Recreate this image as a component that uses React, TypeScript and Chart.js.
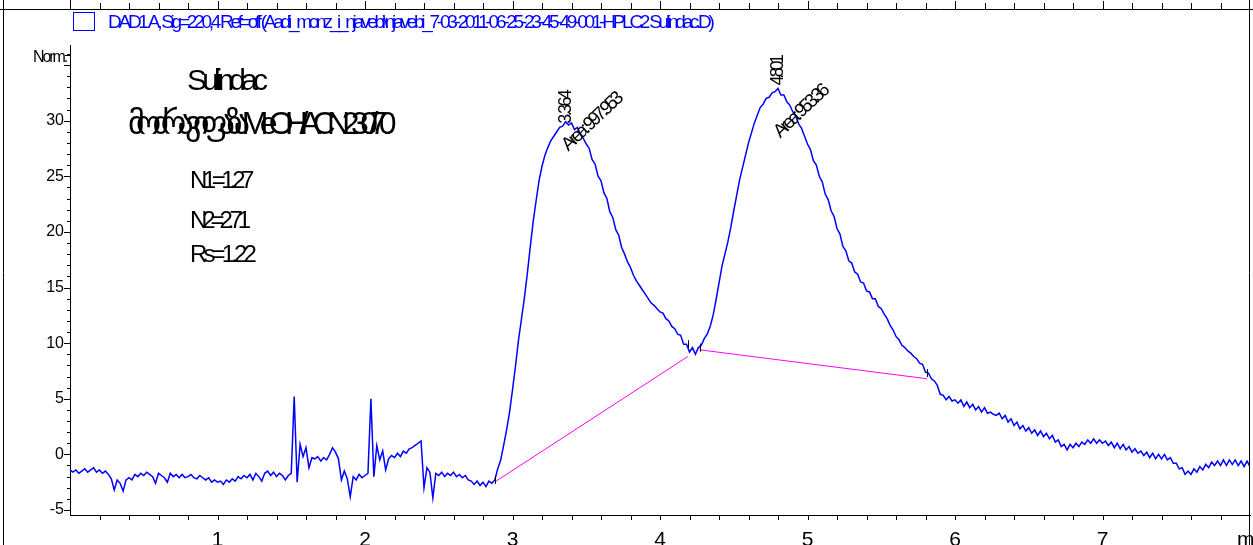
import { useEffect, useRef } from "react";
import { Chart, registerables } from "chart.js";

Chart.register(...registerables);

// Detector trace, mAU, sampled every 0.02 min from 0 to 8 min
const SAMPLE_STEP_MIN = 0.02;
const SIGNAL_MAU = [
  -1.4, -1.6, -1.4, -1.7, -1.5, -1.3, -1.6, -1.4, -1.2, -1.6, -1.4, -1.7, -1.5, -1.8, -2.2, -3.2, -2.3, -2.6, -3.3, -2.3, -2.1, -2.3, -1.8, -2.0, -1.7,
  -1.9, -1.6, -1.8, -2.0, -2.6, -1.7, -1.9, -2.1, -2.5, -1.7, -2.0, -1.8, -2.1, -1.8, -2.1, -2.0, -1.8, -2.1, -2.2, -1.9, -2.1, -2.3, -2.1, -2.5, -2.3,
  -2.5, -2.4, -2.7, -2.3, -2.5, -2.2, -2.4, -2.0, -2.2, -1.9, -2.1, -1.8, -2.3, -1.7, -2.0, -2.4, -1.7, -1.5, -1.9, -1.6, -2.0, -1.7, -1.9, -2.3, -1.9,
  -1.7, 5.2, -2.5, 0.9, -0.2, 0.6, -1.2, -0.3, -0.4, -0.2, -0.6, -0.3, -0.5, 0.0, 0.6, 0.2, -0.4, -2.3, -1.5, -2.2, -3.8, -2.0, -2.3, -1.8, -2.1,
  -1.9, -1.7, 5.0, -2.0, 0.8, -0.5, 0.3, -1.4, -0.4, -0.1, -0.3, 0.1, -0.2, 0.3, 0.1, 0.5, 0.6, 0.8, 1.0, 1.2, -3.0, -1.2, -1.6, -3.9, -1.7,
  -1.9, -1.6, -2.0, -1.7, -1.9, -1.6, -2.0, -1.8, -2.1, -1.9, -2.3, -2.4, -2.7, -2.4, -2.8, -2.5, -2.9, -2.4, -2.6, -2.3, -1.3, -0.5, 0.8, 2.2, 3.8,
  5.8, 7.9, 10.2, 12.1, 14.0, 16.2, 18.6, 20.9, 22.8, 24.6, 25.9, 26.9, 27.6, 28.2, 28.6, 29.0, 29.4, 29.5, 29.9, 29.6, 29.8, 29.2, 29.4, 28.8, 28.4,
  27.9, 27.5, 26.5, 26.1, 25.0, 24.6, 23.5, 23.0, 21.8, 21.3, 20.2, 19.7, 18.6, 18.0, 17.3, 16.8, 16.1, 15.6, 15.2, 14.8, 14.4, 14.0, 13.6, 13.4, 13.1,
  12.8, 12.7, 12.2, 12.0, 11.5, 11.3, 10.8, 10.7, 9.9, 9.9, 9.2, 9.6, 9.0, 9.6, 9.8, 10.4, 10.8, 11.5, 12.5, 13.9, 15.4, 16.9, 18.0, 19.1, 20.4,
  21.9, 23.3, 24.7, 25.8, 26.9, 28.0, 28.9, 29.8, 30.5, 31.2, 31.5, 32.0, 32.1, 32.5, 32.6, 32.9, 32.3, 32.3, 31.7, 31.4, 30.8, 30.4, 29.7, 29.3, 28.6,
  27.9, 27.4, 26.4, 26.0, 25.0, 24.5, 23.4, 22.9, 21.9, 21.4, 20.3, 19.8, 18.7, 18.3, 17.4, 17.2, 16.4, 16.2, 15.5, 15.4, 14.7, 14.6, 14.0, 14.0, 13.3,
  13.1, 12.6, 12.2, 11.6, 11.2, 10.6, 10.3, 9.8, 9.6, 9.3, 9.1, 8.8, 8.6, 8.2, 8.1, 7.4, 7.3, 6.8, 6.6, 6.2, 5.4, 5.3, 4.9, 5.2, 4.8,
  4.9, 4.6, 4.9, 4.3, 4.7, 4.2, 4.5, 4.0, 4.3, 3.8, 4.2, 3.7, 3.8, 3.6, 3.5, 3.7, 3.2, 3.5, 2.9, 3.2, 2.6, 2.9, 2.3, 2.6, 2.1,
  2.4, 1.9, 2.2, 1.7, 2.1, 1.6, 1.9, 1.4, 1.7, 1.1, 1.3, 0.7, 0.9, 0.4, 0.9, 0.6, 1.0, 0.7, 1.1, 0.9, 1.3, 1.0, 1.4, 1.0, 1.3,
  1.0, 1.2, 0.8, 1.1, 0.6, 1.0, 0.5, 0.9, 0.4, 0.7, 0.2, 0.5, 0.1, 0.3, -0.1, 0.2, -0.3, 0.1, -0.4, 0.0, -0.4, 0.0, -0.5, -0.3, -0.8,
  -0.8, -1.3, -1.2, -1.8, -1.5, -1.8, -1.3, -1.6, -1.1, -1.4, -0.9, -1.2, -0.7, -1.0, -0.6, -1.0, -0.5, -1.0, -0.5, -0.9, -0.5, -1.0, -0.6, -1.1, -0.6,
  -1.1,
];

// Integration baselines (min, mAU)
const BASELINE_1_TIMES = [2.878, 4.189];
const BASELINE_1_VALUES = [-2.5, 8.8];
const BASELINE_2_TIMES = [4.268, 5.81];
const BASELINE_2_VALUES = [9.4, 6.8];

// Integration event markers
const EVENT_TIMES = [2.878, 4.189, 4.268, 5.81];

// Peaks
const PEAK_TIMES = [3.364, 4.801];
const PEAK_RT_LABELS = ["3.364", "4.801"];
const PEAK_AREA_LABELS = ["Area: 997.953", "Area: 953.36"];

// Axes
const X_LABELED_TICKS = [1, 2, 3, 4, 5, 6, 7];
const Y_LABELED_TICKS = [-5, 0, 5, 10, 15, 20, 25, 30];
const Y_UNIT_LABEL = "Norm.";
const X_UNIT_LABEL = "min";

// Header and notes
const SIGNAL_TITLE =
  "DAD1 A, Sig=220,4 Ref=off (Aadi_monz_i_njavebi\\njavebi_7-03-2011-06-25-23-45-49-001-HPLC2 Sulindac.D)";
const SAMPLE_NAME = "Sulindac";
const MOBILE_PHASE = "მოძრავი ფაზა MeOH/ACN 2 30/70";
const RESULT_LINES = ["N1=1.27", "N2=2.71", "Rs=1.22"];

const FONT = '"Liberation Sans", "DejaVu Sans", Arial, sans-serif';
const BLUE = "#0000ff";
const MAGENTA = "#ff00ff";

// Tight-set text: glyphs keep their size, the tracking is pulled in to fit a width
function tightText(
  ctx: CanvasRenderingContext2D,
  text: string,
  x: number,
  y: number,
  size: number,
  width: number,
  angle = 0,
  color = "#000"
) {
  ctx.save();
  ctx.font = `${size}px ${FONT}`;
  const anyCtx = ctx as any;
  const hasSpacing = "letterSpacing" in anyCtx;
  if (hasSpacing) anyCtx.letterSpacing = "0px";
  const natural = ctx.measureText(text).width;
  const chars = Array.from(text).length;
  ctx.translate(x, y);
  ctx.rotate(angle);
  if (hasSpacing) {
    anyCtx.letterSpacing = `${((width - natural) / chars).toFixed(2)}px`;
  } else {
    ctx.scale(width / natural, 1);
  }
  ctx.fillStyle = color;
  ctx.textAlign = "left";
  ctx.textBaseline = "alphabetic";
  ctx.fillText(text, 0, 0);
  ctx.restore();
}

function seg(ctx: CanvasRenderingContext2D, x1: number, y1: number, x2: number, y2: number) {
  ctx.beginPath();
  ctx.moveTo(x1, y1);
  ctx.lineTo(x2, y2);
  ctx.stroke();
}

function nearestSignal(t: number) {
  const i = Math.max(0, Math.min(SIGNAL_MAU.length - 1, Math.round(t / SAMPLE_STEP_MIN)));
  return SIGNAL_MAU[i];
}

const decorations = {
  id: "chromDecorations",
  afterDraw(chart: any) {
    const ctx: CanvasRenderingContext2D = chart.ctx;
    const xs = chart.scales.x;
    const ys = chart.scales.y;
    const area = chart.chartArea;
    const W = chart.width;
    const H = chart.height;
    const snap = (v: number) => Math.round(v) + 0.5;

    ctx.save();
    ctx.strokeStyle = "#000";
    ctx.lineWidth = 1;

    // page frame and the axis strip of the panel above
    seg(ctx, 3.5, 0, 3.5, H);
    seg(ctx, snap(area.right) - 1, 0, snap(area.right) - 1, H);
    seg(ctx, 0, 9.5, W, 9.5);
    seg(ctx, snap(area.left), 0, snap(area.left), 9.5);
    for (let k = 1; k < 40; k++) {
      const t = k * 0.2;
      const px = snap(xs.getPixelForValue(t));
      const major = k % 5 === 0;
      seg(ctx, px, 9.5, px, major ? 1 : 3);
      // bottom axis tick
      seg(ctx, px, area.bottom, px, area.bottom + 5);
    }

    // y-axis ticks: every unit, longer every five
    for (let v = -5; v <= 36; v++) {
      const py = snap(ys.getPixelForValue(v));
      const len = v % 5 === 0 ? 6 : 3;
      seg(ctx, area.left - len, py, area.left, py);
    }
    const normY = snap(ys.getPixelForValue(35.9));
    seg(ctx, area.left - 5, normY, area.left, normY);
    tightText(ctx, Y_UNIT_LABEL, 33, normY + 6, 16, 33);

    // x unit label at the right end of the axis
    tightText(ctx, X_UNIT_LABEL, area.right - 13, area.bottom + 31, 21, 26);

    // integration event markers
    EVENT_TIMES.forEach((t) => {
      const px = snap(xs.getPixelForValue(t));
      const py = ys.getPixelForValue(nearestSignal(t));
      seg(ctx, px, py - 4, px, py + 4);
    });

    // signal title with its legend box
    ctx.strokeStyle = BLUE;
    ctx.strokeRect(73.5, 12.5, 21, 18);
    tightText(ctx, SIGNAL_TITLE, 108, 28, 19, 604, 0, BLUE);

    // sample notes
    tightText(ctx, SAMPLE_NAME, 187, 90, 30, 76);
    tightText(ctx, MOBILE_PHASE, 128, 134, 32, 260);
    const noteRows = [188, 228, 262];
    const noteWidths = [60, 56, 63];
    RESULT_LINES.forEach((s, i) => tightText(ctx, s, 190, noteRows[i], 24, noteWidths[i]));

    // peak labels: retention time upright, area at an angle
    const rtLift = [0, -5];
    const rtLen = [32, 28];
    const areaDrop = [30, 50];
    const areaLen = [74, 66];
    PEAK_TIMES.forEach((t, i) => {
      const px = xs.getPixelForValue(t);
      const py = ys.getPixelForValue(nearestSignal(t));
      tightText(ctx, PEAK_RT_LABELS[i], px + 5, py + rtLift[i] + 2, 18, rtLen[i], -Math.PI / 2);
      tightText(ctx, PEAK_AREA_LABELS[i], px + 2, py + areaDrop[i], 19, areaLen[i], -Math.PI * 0.24);
    });

    ctx.restore();
  },
};

export default function App() {
  const canvasRef = useRef<HTMLCanvasElement | null>(null);

  useEffect(() => {
    const canvas = canvasRef.current;
    if (!canvas) return;

    const trace = SIGNAL_MAU.map((v, i) => ({ x: i * SAMPLE_STEP_MIN, y: v }));
    const base1 = BASELINE_1_TIMES.map((t, i) => ({ x: t, y: BASELINE_1_VALUES[i] }));
    const base2 = BASELINE_2_TIMES.map((t, i) => ({ x: t, y: BASELINE_2_VALUES[i] }));

    const chart = new Chart(canvas, {
      type: "line",
      data: {
        datasets: [
          { data: base1, borderColor: MAGENTA, borderWidth: 1, pointRadius: 0 },
          { data: base2, borderColor: MAGENTA, borderWidth: 1, pointRadius: 0 },
          { data: trace, borderColor: BLUE, borderWidth: 1.5, pointRadius: 0 },
        ],
      },
      options: {
        animation: false,
        responsive: false,
        maintainAspectRatio: false,
        parsing: false as any,
        layout: { padding: { top: 45, right: 3, left: 0, bottom: 0 } },
        plugins: { legend: { display: false }, tooltip: { enabled: false } },
        elements: { line: { tension: 0 }, point: { radius: 0 } },
        scales: {
          x: {
            type: "linear",
            min: 0,
            max: 8,
            afterBuildTicks: (s: any) => {
              s.ticks = X_LABELED_TICKS.map((v) => ({ value: v }));
            },
            afterFit: (s: any) => {
              s.height = 30;
            },
            grid: { display: false, drawTicks: false },
            border: { display: true, color: "#000", width: 1 },
            ticks: {
              autoSkip: false,
              maxRotation: 0,
              padding: 13,
              color: "#000",
              font: { family: FONT, size: 21 },
              callback: (v: any) => String(v),
            },
          },
          y: {
            type: "linear",
            min: -5.45,
            max: 36.8,
            afterBuildTicks: (s: any) => {
              s.ticks = Y_LABELED_TICKS.map((v) => ({ value: v }));
            },
            afterFit: (s: any) => {
              s.width = 70;
            },
            grid: { display: false, drawTicks: false },
            border: { display: true, color: "#000", width: 1 },
            ticks: {
              autoSkip: false,
              padding: 6,
              color: "#000",
              font: { family: FONT, size: 16 },
              callback: (v: any) => String(v),
            },
          },
        },
      },
      plugins: [decorations],
    });

    return () => chart.destroy();
  }, []);

  return (
    <div style={{ position: "fixed", left: 0, top: 0, width: 1253, height: 545, background: "#fff" }}>
      <canvas ref={canvasRef} width={1253} height={545} />
    </div>
  );
}
